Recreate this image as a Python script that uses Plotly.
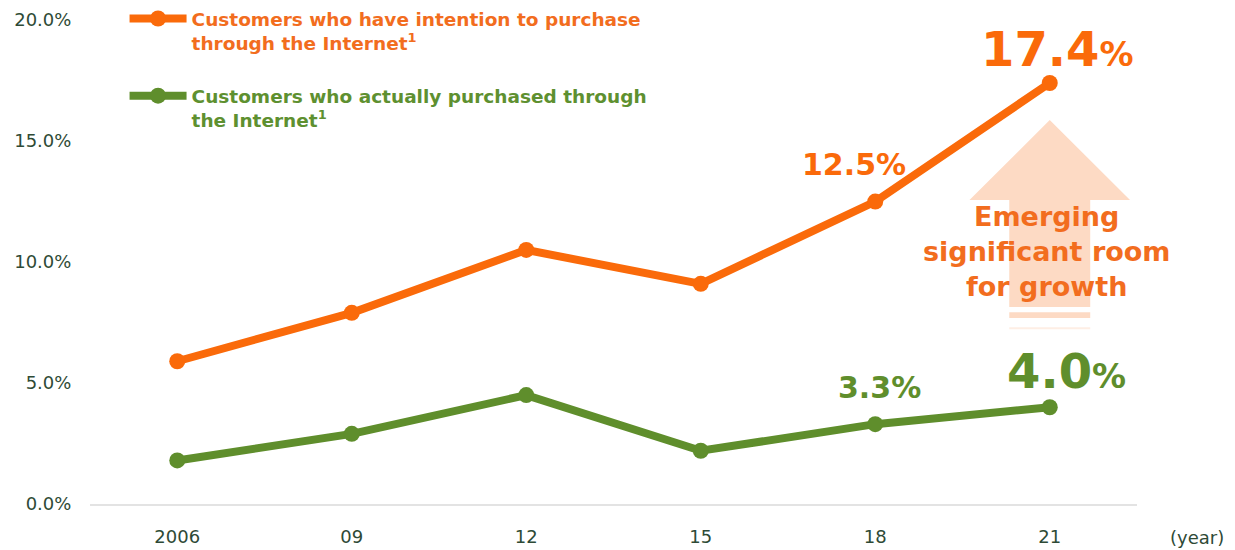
import plotly.graph_objects as go

years = ["2006", "09", "12", "15", "18", "21"]
intention = [5.9, 7.9, 10.5, 9.1, 12.5, 17.4]
actual = [1.8, 2.9, 4.5, 2.2, 3.3, 4.0]
ytick_vals = [0, 5, 10, 15, 20]
ytick_text = ["0.0%", "5.0%", "10.0%", "15.0%", "20.0%"]

ORANGE = "#FA6A0A"
ORANGE_TXT = "#F26D1E"
GREEN = "#5F8E2C"
GREEN_TXT = "#5E9030"
AXIS_TXT = "#2E4A36"
ARROW = "#FDDAC4"
FONT = "DejaVu Sans"

xs = list(range(len(years)))

fig = go.Figure()
fig.add_trace(go.Scatter(
    x=xs, y=intention, mode="lines+markers",
    line=dict(color=ORANGE, width=8), marker=dict(color=ORANGE, size=16),
    name=f"<b><span style='color:{ORANGE_TXT}'>Customers who have intention to purchase<br>through the Internet<sup>1</sup></span></b>",
    legendgroup="a",
))
fig.add_trace(go.Scatter(
    x=xs, y=actual, mode="lines+markers",
    line=dict(color=GREEN, width=8), marker=dict(color=GREEN, size=16),
    name=f"<b><span style='color:{GREEN_TXT}'>Customers who actually purchased through<br>the Internet<sup>1</sup></span></b>",
    legendgroup="b",
))

# arrow (decorative) anchored to the last year
xl = xs[-1]
fig.add_shape(type="path", xref="x", yref="y", layer="below",
              path=f"M {xl-0.46} 12.56 L {xl} 15.87 L {xl+0.46} 12.56 L {xl+0.232} 12.56 "
                   f"L {xl+0.232} 8.14 L {xl-0.232} 8.14 L {xl-0.232} 12.56 Z",
              fillcolor=ARROW, line=dict(width=0))
fig.add_shape(type="rect", xref="x", yref="y", layer="below",
              x0=xl-0.232, x1=xl+0.232, y0=7.69, y1=7.93, fillcolor=ARROW, line=dict(width=0))
fig.add_shape(type="rect", xref="x", yref="y", layer="below",
              x0=xl-0.232, x1=xl+0.232, y0=7.22, y1=7.31, fillcolor="#FEEEE4", line=dict(width=0))

fig.add_annotation(x=xl, y=10.5, xref="x", yref="y", showarrow=False,
                   text="<b>Emerging<br>significant room<br>for growth</b>",
                   font=dict(family=FONT, size=27, color=ORANGE_TXT), align="center",
                   xshift=-3, yshift=-2)

# value labels
fig.add_annotation(x=xs[-1], y=intention[-1], xref="x", yref="y", showarrow=False,
                   text=f"<b>{intention[-1]:.1f}<span style='font-size:34px'>%</span></b>",
                   font=dict(family=FONT, size=48, color=ORANGE), yanchor="bottom", xshift=8, yshift=4)
fig.add_annotation(x=xs[-2], y=intention[-2], xref="x", yref="y", showarrow=False,
                   text=f"<b>{intention[-2]:.1f}%</b>",
                   font=dict(family=FONT, size=30, color=ORANGE), yanchor="bottom", xshift=-21, yshift=18)
fig.add_annotation(x=xs[-1], y=actual[-1], xref="x", yref="y", showarrow=False,
                   text=f"<b>{actual[-1]:.1f}<span style='font-size:34px'>%</span></b>",
                   font=dict(family=FONT, size=48, color=GREEN), yanchor="bottom", xshift=17, yshift=6)
fig.add_annotation(x=xs[-2], y=actual[-2], xref="x", yref="y", showarrow=False,
                   text=f"<b>{actual[-2]:.1f}%</b>",
                   font=dict(family=FONT, size=30, color=GREEN), yanchor="bottom", xshift=4, yshift=17)

fig.add_annotation(x=1.057, y=-0.066, xref="paper", yref="paper", showarrow=False,
                   text="(year)", font=dict(family=FONT, size=18, color=AXIS_TXT),
                   xanchor="center", yanchor="middle")

fig.update_layout(
    width=1235, height=550,
    margin=dict(l=90, r=98, t=0, b=46),
    paper_bgcolor="white", plot_bgcolor="white",
    font=dict(family=FONT, size=18, color=AXIS_TXT),
    showlegend=True,
    legend=dict(x=0.033, y=1.0, xanchor="left", yanchor="top",
                bgcolor="rgba(0,0,0,0)", font=dict(family=FONT, size=18.5),
                valign="top", itemwidth=57, tracegroupgap=26),
    xaxis=dict(range=[-0.5, 5.5], tickvals=xs, ticktext=years, showgrid=False,
               zeroline=False, showline=True, linecolor="#E3E3E3", linewidth=2,
               ticks="outside", ticklen=15, tickcolor="rgba(0,0,0,0)"),
    yaxis=dict(range=[0, 20.83], tickvals=ytick_vals, ticktext=ytick_text, showgrid=False,
               zeroline=False, showline=False,
               ticks="outside", ticklen=14, tickcolor="rgba(0,0,0,0)"),
)

fig.write_html("out.html")
